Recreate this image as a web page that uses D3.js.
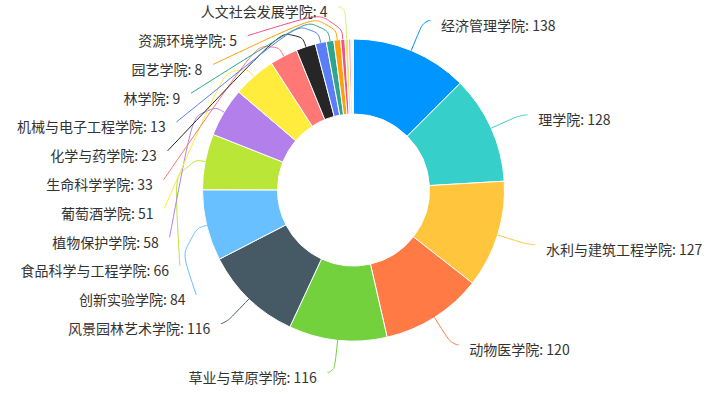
<!DOCTYPE html>
<html>
<head>
<meta charset="utf-8">
<script src="https://cdn.jsdelivr.net/npm/d3@7"></script>
<style>
html,body{margin:0;padding:0;background:#fff;}
svg{display:block;}
</style>
</head>
<body>
<svg id="chart" width="715" height="394"></svg>
<script>
// ---- data ----
const categories = [
  "经济管理学院","理学院","水利与建筑工程学院","动物医学院","草业与草原学院",
  "风景园林艺术学院","创新实验学院","食品科学与工程学院","植物保护学院","葡萄酒学院",
  "生命科学学院","化学与药学院","机械与电子工程学院","林学院","园艺学院",
  "资源环境学院","人文社会发展学院","（未标注）","（未标注）","（未标注）"
];
const values = [138,128,127,120,116,116,84,66,58,51,33,23,13,9,8,5,4,3,2,1];
const colors = [
  "#0095ff","#36cfc9","#ffc53d","#ff7a45","#73d13d",
  "#465a66","#69c0ff","#bae637","#b37feb","#ffec3d",
  "#ff7875","#262626","#597ef7","#2ea58e","#ff9f0a",
  "#f4508d","#d3f261","#ff9ec8","#ffe7ba","#ffbb96"
];

// ---- layout params ----
const W = 715, H = 394;
const cx = 353.5, cy = 190;
const outerR = 151, innerR = 76;
const len1 = 32.4, len2 = 6.7, gap = 10.8, labelH = 28.8;
const minShowAngle = 1 * Math.PI / 180;
const smooth = 0.7;
const textDy = 4.4;

const data = categories.map((c, i) => ({name: c, value: values[i], color: colors[i]}));

const svg = d3.select("#chart");
const pie = d3.pie().sort(null).value(d => d.value);
const arcs = pie(data);
const arc = d3.arc().innerRadius(innerR).outerRadius(outerR);

const g = svg.append("g").attr("transform", `translate(${cx},${cy})`);
g.selectAll("path.slice").data(arcs).join("path")
  .attr("class", "slice")
  .attr("d", arc)
  .attr("fill", d => d.data.color)
  .attr("stroke", "#fff")
  .attr("stroke-width", 1);

// ---- labels ----
const labels = [];
arcs.forEach(a => {
  if (a.endAngle - a.startAngle < minShowAngle) return;
  const mid = (a.startAngle + a.endAngle) / 2;
  const nx = Math.sin(mid), ny = -Math.cos(mid);
  const dir = nx < 0 ? -1 : 1;
  const p1 = [cx + outerR * nx, cy + outerR * ny];
  const p2 = [cx + (outerR + len1) * nx, cy + (outerR + len1) * ny];
  labels.push({a, dir, p1, p2, x: p2[0] + dir * len2, y: p2[1],
    text: a.data.name + ": " + a.data.value, color: a.data.color});
});

function adjustSide(list, dir) {
  if (list.length < 2) return;
  list.sort((m, n) => m.y - n.y);
  let adjusted = false;
  let last = -Infinity;
  list.forEach(it => {
    if (it.y < last + labelH) { it.y = last + labelH; adjusted = true; }
    last = it.y;
  });
  const over = list[list.length - 1].y + labelH / 2 - H;
  if (over > 0) {
    adjusted = true;
    for (let i = list.length - 1; i >= 0; i--) {
      const lim = i === list.length - 1 ? H - labelH / 2 : list[i + 1].y - labelH;
      if (list[i].y > lim) list[i].y = lim; else break;
    }
  }
  if (!adjusted) return;
  const rA = outerR + len1;
  [list.filter(it => it.y <= cy), list.filter(it => it.y > cy)].forEach(semi => {
    let maxY = -1, rB = rA;
    semi.forEach(it => {
      const dy = Math.abs(it.y - cy);
      if (dy >= maxY) {
        const dx = it.x - cx - len2 * dir;
        rB = Math.abs(dx) < rA ? Math.sqrt(dy * dy / (1 - dx * dx / rA / rA)) : rA;
        maxY = dy;
      }
    });
    semi.forEach(it => {
      const dy = Math.abs(it.y - cy);
      const dx = Math.sqrt(Math.max(0, 1 - dy * dy / (rB * rB))) * rA;
      it.x = cx + (dx + len2) * dir;
    });
  });
}
adjustSide(labels.filter(l => l.dir < 0), -1);
adjustSide(labels.filter(l => l.dir > 0), 1);

function linePath(pts) {
  const [a, b, c] = pts;
  const l1 = Math.hypot(a[0] - b[0], a[1] - b[1]);
  const l2 = Math.hypot(c[0] - b[0], c[1] - b[1]);
  const p = d3.path();
  p.moveTo(a[0], a[1]);
  if (!l1 || !l2) { p.lineTo(b[0], b[1]); p.lineTo(c[0], c[1]); return p.toString(); }
  const m = Math.min(l1, l2) * smooth;
  const m0 = [b[0] + (a[0] - b[0]) * m / l1, b[1] + (a[1] - b[1]) * m / l1];
  const m2 = [b[0] + (c[0] - b[0]) * m / l2, b[1] + (c[1] - b[1]) * m / l2];
  const m1 = [(m0[0] + m2[0]) / 2, (m0[1] + m2[1]) / 2];
  p.bezierCurveTo(m0[0], m0[1], m0[0], m0[1], m1[0], m1[1]);
  p.bezierCurveTo(m2[0], m2[1], m2[0], m2[1], c[0], c[1]);
  return p.toString();
}

const lg = svg.append("g");
lg.selectAll("path").data(labels).join("path")
  .attr("d", d => linePath([d.p1, d.p2, [d.x, d.y]]))
  .attr("fill", "none")
  .attr("stroke", d => d.color)
  .attr("stroke-width", 1);

lg.selectAll("text").data(labels).join("text")
  .attr("x", d => d.x + d.dir * gap)
  .attr("y", d => d.y + textDy)
  .attr("text-anchor", d => d.dir < 0 ? "end" : "start")
  .attr("dominant-baseline", "central")
  .attr("font-family", "'Noto Sans CJK SC', 'Noto Sans', sans-serif")
  .attr("font-size", 14)
  .attr("fill", "#333")
  .text(d => d.text);
</script>
</body>
</html>
